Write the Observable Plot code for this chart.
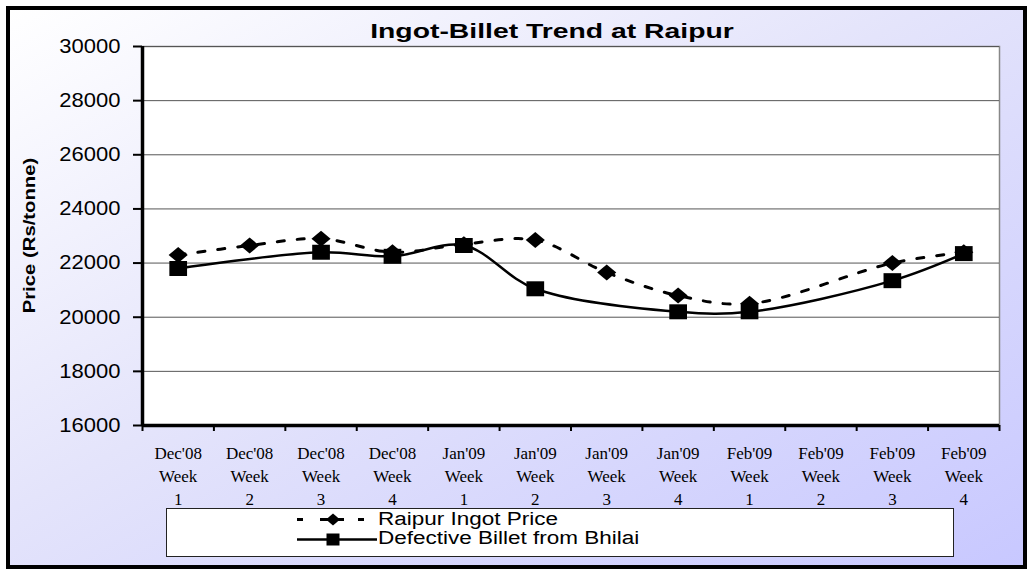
<!DOCTYPE html>
<html>
<head>
<meta charset="utf-8">
<script src="https://cdn.jsdelivr.net/npm/d3@7"></script>
<script src="https://cdn.jsdelivr.net/npm/@observablehq/plot@0.6"></script>
<style>
  html, body { margin: 0; padding: 0; background: #ffffff; }
  #wrap { position: relative; width: 1029px; height: 573px; overflow: hidden; }
  #bg { position: absolute; left: 6px; top: 6px; width: 1021px; height: 563px; box-sizing: border-box;
        border: 4px solid #000; background: linear-gradient(to bottom right, #ffffff 0%, #e4e4fb 45%, #c8c8ff 100%); }
  #wrap svg { position: absolute; left: 0; top: 0; }
</style>
</head>
<body>
<div id="wrap"><div id="bg"></div></div>
<script>
// ---- data ----
const months = ["Dec'08","Dec'08","Dec'08","Dec'08","Jan'09","Jan'09","Jan'09","Jan'09","Feb'09","Feb'09","Feb'09","Feb'09"];
const weeks = ["1","2","3","4","1","2","3","4","1","2","3","4"];
const ingotPrice = [22300, 22650, 22900, 22400, 22700, 22850, 21650, 20800, 20500, null, 22000, 22400];
const billetPrice = [21800, null, 22400, 22250, 22650, 21050, null, 20200, 20200, null, 21350, 22350];
const yTicks = [16000, 18000, 20000, 22000, 24000, 26000, 28000, 30000];
const seriesNames = ["Raipur Ingot Price", "Defective Billet from Bhilai"];
const titleText = "Ingot-Billet Trend at Raipur";
const yLabelText = "Price (Rs/tonne)";

// ---- derived ----
const idx = months.map((_, i) => i);
const xDomain = [-0.5, months.length - 0.5];
const yDomain = [yTicks[0], yTicks[yTicks.length - 1]];
const boundaries = d3.range(months.length + 1).map(i => i - 0.5);
const ingotRows = idx.filter(i => ingotPrice[i] != null).map(i => ({i, v: ingotPrice[i]}));
const billetRows = idx.filter(i => billetPrice[i] != null).map(i => ({i, v: billetPrice[i]}));

const SANS = "'Liberation Sans', Arial, Helvetica, sans-serif";
const SERIF = "'Liberation Serif', 'Times New Roman', Times, serif";

const diamondSym = { draw(ctx, size) { const s = Math.sqrt(size); const h = s * 0.5, w = s * 0.6;
  ctx.moveTo(0, -h); ctx.lineTo(w, 0); ctx.lineTo(0, h); ctx.lineTo(-w, 0); ctx.closePath(); } };
const squareSym = { draw(ctx, size) { const s = Math.sqrt(size); const h = s * 0.47, w = s * 0.555;
  ctx.rect(-w, -h, 2 * w, 2 * h); } };

const svg = Plot.plot({
  width: 1029, height: 573,
  marginLeft: 142, marginRight: 30, marginTop: 46, marginBottom: 148,
  x: {type: "linear", domain: xDomain, label: null},
  y: {domain: yDomain, label: null},
  style: {background: "transparent", color: "black", overflow: "visible"},
  marks: [
    Plot.frame({fill: "white", stroke: "#888", strokeWidth: 1.5}),
    Plot.gridY(yTicks, {stroke: "#555", strokeOpacity: 1, strokeWidth: 1}),
    Plot.axisY({ticks: yTicks, tickSize: 9, tickPadding: 13, strokeWidth: 2, fontSize: 20, fontFamily: SANS,
                tickFormat: d3.format("d"), label: null}),
    Plot.axisX({ticks: boundaries, tickSize: 6, strokeWidth: 2, tickFormat: () => "", label: null}),
    Plot.text(idx, {x: d => d, text: d => months[d] + "\nWeek\n" + weeks[d], frameAnchor: "bottom",
                    lineAnchor: "top", dy: 17, fontSize: 17, fontFamily: SERIF, lineHeight: 1.35,
                    fill: "black", ariaLabel: "xlabels"}),
    Plot.ruleX([xDomain[0]], {stroke: "black", strokeWidth: 3.5}),
    Plot.ruleY([yDomain[0]], {stroke: "black", strokeWidth: 3.5}),
    Plot.line(ingotRows, {x: "i", y: "v", curve: "catmull-rom", stroke: "black", strokeWidth: 3,
                          strokeDasharray: "7,13"}),
    Plot.dot(ingotRows, {x: "i", y: "v", symbol: diamondSym, r: 9, fill: "black", stroke: "none"}),
    Plot.line(billetRows, {x: "i", y: "v", curve: "catmull-rom", stroke: "black", strokeWidth: 2.5}),
    Plot.dot(billetRows, {x: "i", y: "v", symbol: squareSym, r: 9, fill: "black", stroke: "none"})
  ]
});

function stretch(sel, sx) {
  sel.each(function() {
    const t = this.getAttribute("transform") || "";
    this.setAttribute("transform", t + ` scale(${sx},1)`);
  });
}
const s = d3.select(svg);
stretch(s.selectAll("g[aria-label='y-axis tick label'] text"), 1.1);
stretch(s.selectAll("g[aria-label='xlabels'] text"), 1.18);

// ---- title, y label, legend ----
const g = s.append("g").attr("fill", "black");
g.append("text").text(titleText)
  .attr("transform", "translate(552,38) scale(1.35,1)")
  .attr("text-anchor", "middle").attr("font-family", SANS).attr("font-weight", "bold").attr("font-size", 21);
g.append("text").text(yLabelText)
  .attr("transform", "translate(35,235.5) rotate(-90) scale(1.27,1)")
  .attr("text-anchor", "middle").attr("font-family", SANS).attr("font-weight", "bold").attr("font-size", 16);

const lg = g.append("g");
lg.append("rect").attr("x", 166.5).attr("y", 508.5).attr("width", 787).attr("height", 48)
  .attr("fill", "white").attr("stroke", "#222").attr("stroke-width", 1);
const r1 = 519.5, r2 = 539.5, x0 = 297;
[[0, 6], [23, 47], [61, 67]].forEach(([a, b]) =>
  lg.append("line").attr("x1", x0 + a).attr("x2", x0 + b).attr("y1", r1).attr("y2", r1)
    .attr("stroke", "black").attr("stroke-width", 3));
lg.append("path").attr("transform", `translate(${x0 + 36},${r1})`)
  .attr("d", "M0,-6L7,0L0,6L-7,0Z").attr("fill", "black");
lg.append("line").attr("x1", x0).attr("x2", x0 + 80).attr("y1", r2).attr("y2", r2)
  .attr("stroke", "black").attr("stroke-width", 2.7);
lg.append("rect").attr("x", x0 + 36 - 6.5).attr("y", r2 - 6).attr("width", 13).attr("height", 12).attr("fill", "black");
[[seriesNames[0], 524.5], [seriesNames[1], 543.5]].forEach(([t, y]) =>
  lg.append("text").text(t).attr("transform", `translate(378,${y}) scale(1.25,1)`)
    .attr("text-anchor", "start").attr("font-family", SANS).attr("font-size", 18));

document.getElementById("wrap").appendChild(svg);
</script>
</body>
</html>
